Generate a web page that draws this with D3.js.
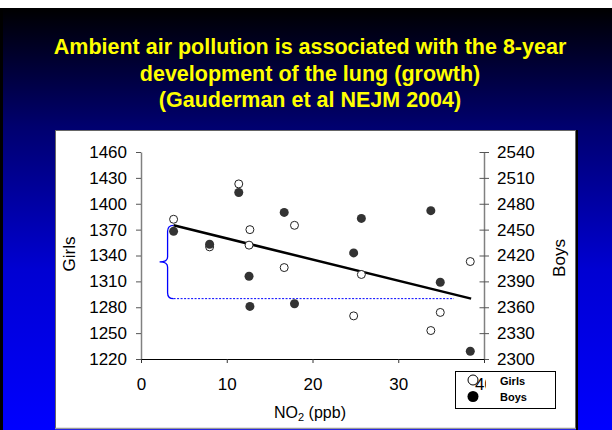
<!DOCTYPE html>
<html>
<head>
<meta charset="utf-8">
<script src="https://cdn.jsdelivr.net/npm/d3@7"></script>
<style>
  body { margin: 0; background: #fff; }
  svg { display: block; font-family: "Liberation Sans", Arial, sans-serif; }
</style>
</head>
<body>
<svg id="chart" width="612" height="430"></svg>
<script>
// community mean NO2 (ppb), 12 communities
var no2 = [3.8, 8.0, 11.4, 12.6, 12.7, 16.7, 17.9, 24.8, 25.7, 33.8, 34.9, 38.4];
// 8-year FEV1 growth (ml)
var girls = [1382, 1350, 1423, 1352, 1370, 1326, 1375, 1270, 1318, 1253, 1274, 1333];
var boys = [2448, 2433, 2493, 2396, 2361, 2470, 2364, 2423, 2463, 2472, 2389, 2309];
// fitted line (girls axis)
var fitX = [3.8, 38.5];
var fitY = [1375, 1290];
var gapEndX = 36.5;

var xTicks = [0, 10, 20, 30, 40];
var girlsTicks = [1220, 1250, 1280, 1310, 1340, 1370, 1400, 1430, 1460];
var boysTicks = [2300, 2330, 2360, 2390, 2420, 2450, 2480, 2510, 2540];
var titleLines = ['Ambient air pollution is associated with the 8-year',
	'development of the lung (growth)',
	'(Gauderman et al NEJM 2004)'];

var svg = d3.select('#chart');

// slide background
var grad = svg.append('defs').append('linearGradient')
	.attr('id', 'bg').attr('x1', 0).attr('y1', 0).attr('x2', 0).attr('y2', 1);
grad.append('stop').attr('offset', '0%').attr('stop-color', '#000000');
grad.append('stop').attr('offset', '28%').attr('stop-color', '#00006e');
grad.append('stop').attr('offset', '62%').attr('stop-color', '#0000d2');
grad.append('stop').attr('offset', '100%').attr('stop-color', '#0000ff');

svg.append('rect').attr('x', 0).attr('y', 8).attr('width', 3).attr('height', 422).style('fill', '#000');
svg.append('rect').attr('x', 3).attr('y', 8).attr('width', 609).attr('height', 422).style('fill', 'url(#bg)');

svg.append('g').selectAll('text').data(titleLines).enter().append('text')
	.attr('x', 310)
	.attr('y', function (d, i) { return 54 + i * 26.5; })
	.attr('text-anchor', 'middle')
	.style('font-size', '21.5px')
	.style('font-weight', 'bold')
	.style('fill', '#ffff00')
	.text(function (d) { return d; });

// chart panel
svg.append('rect').attr('x', 55.5).attr('y', 130.5).attr('width', 520).attr('height', 298)
	.style('fill', '#fff').style('stroke', '#666').style('stroke-width', 1);
svg.append('line').attr('x1', 577).attr('x2', 577).attr('y1', 130).attr('y2', 430)
	.style('stroke', '#000').style('stroke-width', 2);
svg.append('line').attr('x1', 55).attr('x2', 576).attr('y1', 428.5).attr('y2', 428.5)
	.style('stroke', '#999').style('stroke-width', 1.5);

var x = d3.scaleLinear().domain([0, 40]).range([141, 484]);
var yG = d3.scaleLinear().domain([1220, 1460]).range([359, 152]);
var yB = d3.scaleLinear().domain([2300, 2540]).range([359, 152]);
var fmt = d3.format('d');

var axL = svg.append('g').attr('transform', 'translate(141,0)')
	.call(d3.axisLeft(yG).tickValues(girlsTicks).tickFormat(fmt).tickSize(5).tickSizeOuter(0).tickPadding(9));
var axR = svg.append('g').attr('transform', 'translate(484,0)')
	.call(d3.axisRight(yB).tickValues(boysTicks).tickFormat(fmt).tickSize(5).tickSizeOuter(0).tickPadding(8));
axR.selectAll('.tick line').attr('x1', -4.5);
var axB = svg.append('g').attr('transform', 'translate(0,359)')
	.call(d3.axisBottom(x).tickValues(xTicks).tickFormat(fmt).tickSize(4).tickSizeOuter(0).tickPadding(15));

[axL, axR].forEach(function (a) {
	a.select('.domain').style('stroke', '#808080').style('stroke-width', 1.5);
	a.selectAll('.tick line').style('stroke', '#555');
});
axB.select('.domain').style('stroke', '#000').style('stroke-width', 1.2);
axB.selectAll('.tick line').style('stroke', '#333');
[axL, axR, axB].forEach(function (a) {
	a.selectAll('text').style('font-size', '17px').style('fill', '#000')
		.style('font-family', '"Liberation Sans", Arial, sans-serif');
});

svg.append('text').attr('transform', 'translate(75,254) rotate(-90)')
	.attr('text-anchor', 'middle').style('font-size', '17px').text('Girls');
svg.append('text').attr('transform', 'translate(565,258) rotate(-90)')
	.attr('text-anchor', 'middle').style('font-size', '17px').text('Boys');
var xt = svg.append('text').attr('x', 310).attr('y', 418)
	.attr('text-anchor', 'middle').style('font-size', '16px');
xt.append('tspan').text('NO');
xt.append('tspan').attr('dy', 3).style('font-size', '11px').text('2');
xt.append('tspan').attr('dy', -3).text(' (ppb)');

// brace + dotted gap line
var bx = x(fitX[0]), bt = yG(fitY[0]), bb = yG(fitY[1]), bm = (bt + bb) / 2,
	bv = bx - 6, btip = bx - 14;
var p = d3.path();
p.moveTo(bx, bt);
p.quadraticCurveTo(bv, bt, bv, bt + 6);
p.lineTo(bv, bm - 5);
p.quadraticCurveTo(bv, bm, btip, bm);
p.quadraticCurveTo(bv, bm, bv, bm + 5);
p.lineTo(bv, bb - 6);
p.quadraticCurveTo(bv, bb, bx, bb);
svg.append('path').attr('d', p.toString())
	.style('fill', 'none').style('stroke', '#0000ff').style('stroke-width', 1.3);
svg.append('line').attr('x1', bx).attr('x2', x(gapEndX)).attr('y1', bb).attr('y2', bb)
	.style('stroke', '#0000ff').style('stroke-width', 1).style('stroke-dasharray', '2,1.5');

// fitted line
svg.append('line')
	.attr('x1', x(fitX[0])).attr('y1', yG(fitY[0]))
	.attr('x2', x(fitX[1])).attr('y2', yG(fitY[1]))
	.style('stroke', '#000').style('stroke-width', 2.5);

// points
svg.append('g').selectAll('circle').data(no2).enter().append('circle')
	.attr('cx', function (d) { return x(d); })
	.attr('cy', function (d, i) { return yG(girls[i]); })
	.attr('r', 4)
	.style('fill', '#fff').style('stroke', '#222').style('stroke-width', 1);
svg.append('g').selectAll('circle').data(no2).enter().append('circle')
	.attr('cx', function (d) { return x(d); })
	.attr('cy', function (d, i) { return yB(boys[i]); })
	.attr('r', 4.5)
	.style('fill', '#333');

// legend (the "40" tick label shows through its left side)
svg.append('rect').attr('x', 455.5).attr('y', 371.5).attr('width', 100).attr('height', 37)
	.style('fill', 'none').style('stroke', '#000').style('stroke-width', 1);
svg.append('rect').attr('x', 486).attr('y', 372).attr('width', 69).attr('height', 36).style('fill', '#fff');
svg.append('circle').attr('cx', 473).attr('cy', 380).attr('r', 5)
	.style('fill', 'none').style('stroke', '#000').style('stroke-width', 1);
svg.append('circle').attr('cx', 473).attr('cy', 396.5).attr('r', 5.5).style('fill', '#000');
svg.append('text').attr('x', 500).attr('y', 385).style('font-size', '11px').style('font-weight', 'bold').text('Girls');
svg.append('text').attr('x', 500).attr('y', 401).style('font-size', '11px').style('font-weight', 'bold').text('Boys');
</script>
</body>
</html>
